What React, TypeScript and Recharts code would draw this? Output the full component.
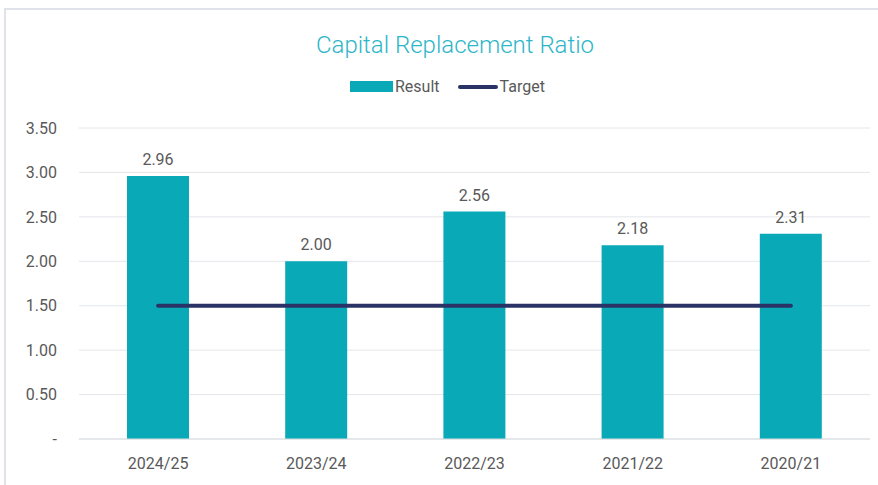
import React from 'react';
import {
  ComposedChart,
  Bar,
  Line,
  XAxis,
  YAxis,
  CartesianGrid,
  LabelList,
} from 'recharts';

const years = ['2024/25', '2023/24', '2022/23', '2021/22', '2020/21'];
const result = [2.96, 2.0, 2.56, 2.18, 2.31];
const target = [1.5, 1.5, 1.5, 1.5, 1.5];
const yTicks = [0, 0.5, 1, 1.5, 2, 2.5, 3, 3.5];

const data = years.map((year, i) => ({
  year,
  result: result[i],
  target: target[i],
}));

const TEAL = '#0AA9B8';
const NAVY = '#2B3366';
const GREY = '#595959';

export default function App() {
  return (
    <div
      style={{
        position: 'absolute',
        left: 0,
        top: 0,
        width: 878,
        height: 485,
        overflow: 'hidden',
        background: '#fff',
        fontFamily: 'Roboto, sans-serif',
      }}
    >
      <div
        style={{
          position: 'absolute',
          left: 4,
          top: 8,
          right: 0,
          bottom: 0,
          borderTop: '2px solid #dfe3e9',
          borderLeft: '2px solid #dfe3e9',
        }}
      />
      <div
        style={{
          position: 'absolute',
          top: 31,
          left: 0,
          width: 910,
          textAlign: 'center',
          fontSize: 24,
          color: '#2DB6C7',
          fontWeight: 300,
        }}
      >
        Capital Replacement Ratio
      </div>
      <div
        style={{
          position: 'absolute',
          top: 77,
          left: 350,
          display: 'flex',
          alignItems: 'center',
          fontSize: 16,
          color: GREY,
        }}
      >
        <span style={{ width: 43, height: 11, background: TEAL, display: 'inline-block' }} />
        <span style={{ marginLeft: 2 }}>Result</span>
        <span
          style={{
            width: 40,
            height: 4,
            borderRadius: 2,
            background: NAVY,
            display: 'inline-block',
            marginLeft: 18,
          }}
        />
        <span style={{ marginLeft: 2 }}>Target</span>
      </div>
      <div style={{ position: 'absolute', left: 0, top: 0 }}>
        <ComposedChart
          width={878}
          height={485}
          data={data}
          margin={{ top: 128, right: 8, left: 0, bottom: 16 }}
        >
          <CartesianGrid vertical={false} stroke="#e3e6ea" />
          <XAxis
            dataKey="year"
            axisLine={{ stroke: '#d9dce1' }}
            tickLine={false}
            tickSize={0}
            tickMargin={19}
            height={30}
            tick={{ fill: GREY, fontSize: 16 }}
          />
          <YAxis
            width={79}
            domain={[0, 3.5]}
            ticks={yTicks}
            axisLine={false}
            tickLine={false}
            tickSize={0}
            tickMargin={22}
            tick={{ fill: GREY, fontSize: 16 }}
            tickFormatter={(v: number) => (v === 0 ? '-' : v.toFixed(2))}
          />
          <Bar dataKey="result" fill={TEAL} barSize={62} isAnimationActive={false}>
            <LabelList
              dataKey="result"
              position="top"
              offset={11}
              fill={GREY}
              fontSize={16}
              formatter={(v: number) => v.toFixed(2)}
            />
          </Bar>
          <Line
            dataKey="target"
            stroke={NAVY}
            strokeWidth={4}
            strokeLinecap="round"
            dot={false}
            activeDot={false}
            isAnimationActive={false}
          />
        </ComposedChart>
      </div>
    </div>
  );
}
